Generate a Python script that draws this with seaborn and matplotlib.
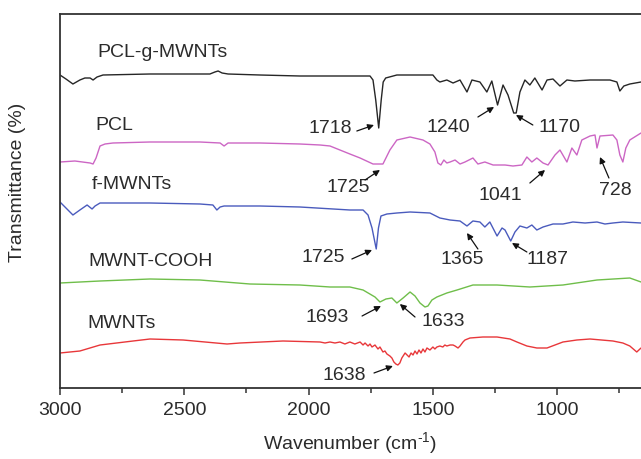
import matplotlib
matplotlib.use("Agg")
import matplotlib.pyplot as plt
import pandas as pd
import seaborn as sns

# FTIR spectra, (wavenumber cm^-1, stacked transmittance level in arbitrary units)
pcl_g_mwnts_wn = [3000, 2976, 2948, 2920, 2900, 2879, 2867, 2851, 2827, 2638, 2397, 2377, 2364,
                  2348, 2324, 2196, 2035, 1874, 1753, 1741, 1730, 1718, 1708, 1700, 1690, 1645,
                  1500, 1484, 1472, 1444, 1419, 1391, 1363, 1343, 1311, 1283, 1263, 1240, 1218,
                  1198, 1175, 1165, 1150, 1130, 1110, 1090, 1061, 1041, 1017, 989, 961, 929,
                  868, 788, 760, 748, 732, 708, 663]
pcl_g_mwnts_t = [313, 309, 304, 308, 310, 310, 308, 311, 313, 314, 314, 316, 317,
                 315, 314, 313, 312, 312, 312, 308, 288, 260, 288, 306, 310, 313,
                 313, 308, 306, 308, 305, 308, 296, 308, 306, 296, 307, 283, 303,
                 293, 275, 275, 296, 308, 303, 310, 298, 308, 309, 302, 308, 307,
                 308, 308, 306, 297, 302, 304, 306]

pcl_wn = [3000, 2940, 2879, 2867, 2855, 2839, 2819, 2787, 2638, 2437, 2356, 2340, 2324, 2196,
          2035, 1954, 1914, 1874, 1834, 1793, 1741, 1701, 1673, 1645, 1592, 1540, 1512, 1492,
          1480, 1468, 1456, 1444, 1431, 1411, 1391, 1371, 1339, 1319, 1291, 1258, 1210, 1178,
          1142, 1122, 1102, 1082, 1057, 1037, 1009, 989, 961, 941, 921, 901, 868, 848, 840,
          828, 776, 760, 748, 736, 724, 708, 663]
pcl_t = [226, 227, 225, 224, 230, 242, 244, 245, 246, 246, 245, 242, 245, 245,
         244, 243, 242, 238, 234, 230, 224, 224, 238, 248, 251, 248, 244, 236,
         225, 223, 228, 225, 226, 228, 224, 226, 230, 224, 226, 223, 223, 222,
         223, 231, 226, 230, 225, 223, 233, 238, 226, 240, 233, 248, 252, 253, 240,
         252, 253, 248, 233, 226, 240, 248, 255]

f_mwnts_wn = [3000, 2976, 2948, 2920, 2891, 2871, 2859, 2839, 2638, 2437, 2385, 2369, 2356, 2340,
              2196, 2035, 1834, 1781, 1761, 1745, 1728, 1719, 1709, 1685, 1645, 1592, 1512, 1472,
              1431, 1391, 1363, 1339, 1311, 1291, 1271, 1242, 1222, 1210, 1187, 1170, 1150, 1122,
              1102, 1082, 1057, 1017, 977, 937, 888, 840, 808, 776, 736, 663]
f_mwnts_t = [186, 180, 173, 178, 183, 179, 182, 185, 185, 184, 183, 178, 181, 182,
             182, 181, 178, 178, 173, 160, 139, 160, 172, 174, 175, 176, 175, 170,
             168, 167, 162, 167, 166, 161, 166, 152, 160, 158, 147, 156, 162, 160,
             163, 158, 161, 164, 164, 166, 165, 166, 164, 165, 166, 165]

mwnt_cooh_wn = [3000, 2839, 2638, 2437, 2236, 2035, 1914, 1834, 1781, 1733, 1713, 1689, 1665,
                1645, 1620, 1592, 1572, 1552, 1532, 1520, 1504, 1484, 1444, 1403, 1339, 1242,
                1110, 977, 840, 708, 663]
mwnt_cooh_t = [105, 107, 109, 108, 104, 103, 101, 101, 98, 91, 86, 89, 90,
               85, 90, 96, 92, 85, 81, 82, 88, 91, 95, 98, 103, 103,
               101, 103, 108, 110, 106]

mwnts_wn = [3000, 2920, 2839, 2706, 2638, 2505, 2328, 2276, 2103, 1954, 1934, 1914, 1894, 1874,
            1854, 1834, 1814, 1793, 1781, 1773, 1761, 1753, 1745, 1733, 1721, 1713, 1701, 1693,
            1685, 1673, 1665, 1657, 1649, 1641, 1633, 1625, 1612, 1604, 1596, 1588, 1580, 1572,
            1564, 1556, 1548, 1540, 1532, 1524, 1512, 1500, 1492, 1484, 1472, 1460, 1452, 1444,
            1431, 1419, 1411, 1399, 1391, 1379, 1371, 1351, 1299, 1242, 1190, 1162, 1122, 1082,
            1041, 1009, 977, 921, 868, 776, 736, 708, 680, 663]
mwnts_t = [35, 37, 43, 47, 49, 48, 44, 45, 47, 46, 45, 46, 45, 46,
           44, 46, 44, 46, 43, 45, 42, 44, 41, 43, 39, 41, 36, 37,
           34, 32, 30, 26, 24, 23, 25, 30, 35, 33, 31, 35, 33, 37,
           34, 38, 35, 39, 36, 40, 38, 41, 39, 41, 42, 41, 43, 42,
           43, 43, 42, 40, 42, 46, 48, 50, 51, 51, 49, 46, 42, 40,
           40, 43, 46, 48, 49, 47, 45, 42, 36, 40]

series_names = ["PCL-g-MWNTs", "PCL", "f-MWNTs", "MWNT-COOH", "MWNTs"]
series_colors = ["#262626", "#cc66c4", "#4a5bbd", "#6fbe4a", "#e8373a"]

# Series name label anchors (wavenumber, level)
name_pos = [(2851, 336), (2859, 263), (2871, 204), (2887, 126), (2891, 64)]

# Peak annotations: text, text centre, arrow tail, arrow tip
peak_labels = ["1718", "1240", "1170", "1725", "1041", "728",
               "1725", "1365", "1187", "1693", "1633", "1638"]
peak_text_pos = [(1914, 260), (1439, 261), (989, 261), (1842, 201), (1230, 193), (768, 198),
                 (1942, 130), (1383, 128), (1041, 128), (1926, 70), (1460, 66), (1858, 13)]
peak_tail = [(1806, 257), (1319, 271), (1098, 263), (1773, 208), (1110, 205), (792, 210),
             (1826, 129), (1319, 139), (1122, 136), (1785, 72), (1572, 71), (1737, 15)]
peak_tip = [(1737, 263), (1254, 281), (1166, 273), (1713, 218), (1049, 218), (828, 231),
            (1745, 138), (1363, 155), (1182, 145), (1709, 82), (1633, 84), (1661, 22)]

frames = []
for name, wn, t in zip(series_names,
                       [pcl_g_mwnts_wn, pcl_wn, f_mwnts_wn, mwnt_cooh_wn, mwnts_wn],
                       [pcl_g_mwnts_t, pcl_t, f_mwnts_t, mwnt_cooh_t, mwnts_t]):
    frames.append(pd.DataFrame({"wavenumber": wn, "level": t, "sample": name}))
df = pd.concat(frames, ignore_index=True)

sns.set_style("white")
plt.rcParams["font.family"] = ["Liberation Sans", "DejaVu Sans"]
plt.rcParams["mathtext.fontset"] = "custom"
plt.rcParams["mathtext.rm"] = "Liberation Sans"
plt.rcParams["axes.unicode_minus"] = False

text_color = "#2b2b2b"
fs = 14

fig = plt.figure(figsize=(6.41, 4.59), dpi=100)
ax = fig.add_axes([60 / 641, 71 / 459, 581 / 641, 374 / 459])

sns.lineplot(data=df, x="wavenumber", y="level", hue="sample", hue_order=series_names,
             palette=series_colors, estimator=None, sort=True, linewidth=1.0,
             legend=False, ax=ax)

ax.set_xlim(3000, 663)
ax.set_ylim(0, 374)
ax.set_xticks([3000, 2500, 2000, 1500, 1000])
ax.set_xticks([2750, 2250, 1750, 1250, 750], minor=True)
ax.set_yticks([])
ax.tick_params(axis="x", which="major", direction="out", length=5, width=1.1,
               color="#333333", labelsize=fs, labelcolor=text_color, pad=5, bottom=True)
ax.tick_params(axis="x", which="minor", direction="out", length=3.5, width=1.1,
               color="#333333", bottom=True)

for side in ["left", "bottom", "top"]:
    ax.spines[side].set_color("#333333")
    ax.spines[side].set_linewidth(1.3)
ax.spines["right"].set_visible(False)

ax.set_xlabel(r"Wavenumber (cm$^{\text{-}1}$)", fontsize=fs, color=text_color, labelpad=8)
ax.set_ylabel("Transmittance (%)", fontsize=fs, color=text_color)
ax.yaxis.set_label_coords(-0.058, 0.55)

for name, (x, y) in zip(series_names, name_pos):
    ax.text(x, y, name, fontsize=fs, color=text_color, ha="left", va="center")

for lab, tp, tail, tip in zip(peak_labels, peak_text_pos, peak_tail, peak_tip):
    ax.text(tp[0], tp[1], lab, fontsize=fs, color=text_color, ha="center", va="center")
    ax.annotate("", xy=tip, xytext=tail,
                arrowprops=dict(arrowstyle="-|>", color="#111111", lw=0.9,
                                mutation_scale=9, shrinkA=0, shrinkB=0))

fig.savefig("out.png", dpi=100)
